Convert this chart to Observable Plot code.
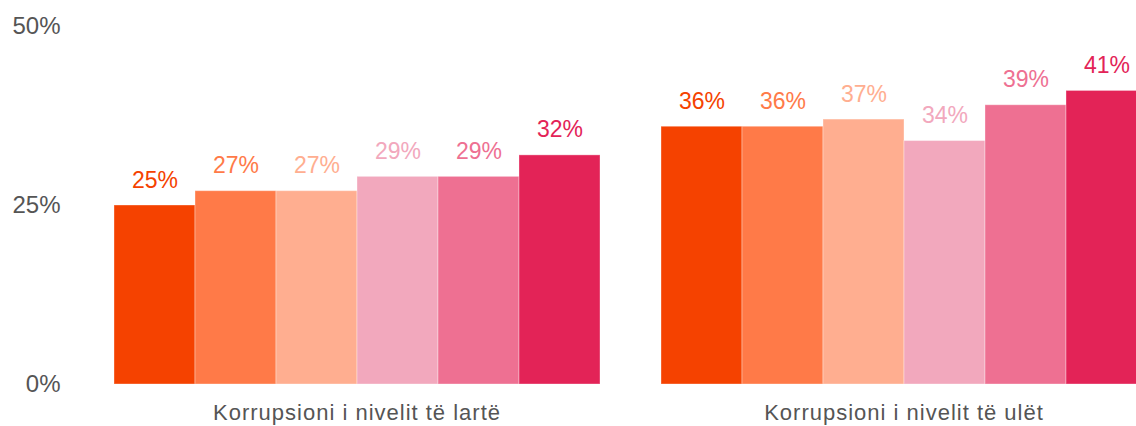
<!DOCTYPE html>
<html>
<head>
<meta charset="utf-8">
<script src="https://cdn.jsdelivr.net/npm/d3@7"></script>
<script src="https://cdn.jsdelivr.net/npm/@observablehq/plot@0.6"></script>
<style>
  html, body { margin: 0; padding: 0; background: #fff; overflow: hidden; }
  #chart { width: 1136px; height: 426px; overflow: hidden; }
  #chart svg { max-width: none !important; }
  #chart g[aria-label="fx-axis tick label"] text { letter-spacing: 1px; }
</style>
</head>
<body>
<div id="chart"></div>
<script>
const categories = ["Korrupsioni i nivelit të lartë", "Korrupsioni i nivelit të ulët"];
const series = ["s1", "s2", "s3", "s4", "s5", "s6"];
const highValues = [25, 27, 27, 29, 29, 32];
const lowValues = [36, 36, 37, 34, 39, 41];
const colors = ["#f54200", "#ff7a48", "#ffae90", "#f2a8bd", "#ee7092", "#e32357"];
const yTicks = [0, 25, 50];

const data = [];
series.forEach((s, i) => data.push({category: categories[0], series: s, value: highValues[i]}));
series.forEach((s, i) => data.push({category: categories[1], series: s, value: lowValues[i]}));

const font = "'Liberation Sans', Arial, sans-serif";

const chart = Plot.plot({
  width: 1150,
  height: 426,
  marginLeft: 113,
  marginRight: 3,
  marginTop: 26,
  marginBottom: 42,
  style: {fontFamily: font, fontSize: "22px", background: "white", overflow: "visible", maxWidth: "none"},
  fx: {domain: categories, paddingInner: 0.1097, paddingOuter: 0, label: null},
  x: {domain: series, padding: 0, axis: null},
  y: {domain: [0, 50], ticks: yTicks, axis: null},
  color: {domain: series, range: colors},
  marks: [
    Plot.axisFx({anchor: "bottom", tickSize: 0, tickPadding: 20, fontSize: 22, fill: "#555", label: null}),
    Plot.axisY(yTicks, {anchor: "left", tickSize: 0, tickPadding: 53, fontSize: 24, fill: "#555", tickFormat: d => d + "%", label: null}),
    Plot.barY(data, {fx: "category", x: "series", y: "value", fill: "series", stroke: "white", strokeOpacity: 0.35, strokeWidth: 1}),
    Plot.text(data, {fx: "category", x: "series", y: "value", text: d => d.value + "%", fill: "series", lineAnchor: "bottom", dy: -18, fontSize: 23})
  ]
});
document.getElementById("chart").appendChild(chart);
</script>
</body>
</html>
